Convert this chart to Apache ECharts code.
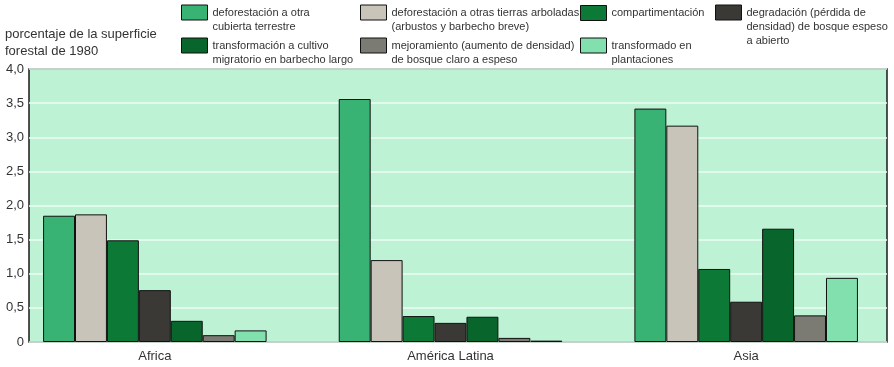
<!DOCTYPE html>
<html>
<head>
<meta charset="utf-8">
<script src="https://cdn.jsdelivr.net/npm/echarts@6/dist/echarts.min.js"></script>
<style>html,body{margin:0;padding:0;background:#fff;}#c{width:894px;height:367px;}</style>
</head>
<body>
<div id="c"></div>
<script>
var categories = ['Africa', 'América Latina', 'Asia'];
var yTicks = [0, 0.5, 1, 1.5, 2, 2.5, 3, 3.5, 4];
var deforestOtra = [1.85, 3.56, 3.42];
var deforestArbol = [1.87, 1.20, 3.17];
var compartimentacion = [1.49, 0.38, 1.07];
var degradacion = [0.76, 0.28, 0.59];
var cultivoMigratorio = [0.31, 0.37, 1.66];
var mejoramiento = [0.10, 0.06, 0.39];
var plantaciones = [0.17, 0.02, 0.94];

var names = {
  a: 'deforestación a otra\ncubierta terrestre',
  b: 'deforestación a otras tierras arboladas\n(arbustos y barbecho breve)',
  c: 'compartimentación',
  d: 'degradación (pérdida de\ndensidad) de bosque espeso\na abierto',
  e: 'transformación a cultivo\nmigratorio en barbecho largo',
  f: 'mejoramiento (aumento de densidad)\nde bosque claro a espeso',
  g: 'transformado en\nplantaciones'
};
var colors = {
  a: '#38b374', b: '#c9c4ba', c: '#0c7a36', d: '#3a3935',
  e: '#08652b', f: '#7b7b74', g: '#82e0ae'
};
var FONT = '"Liberation Sans", Arial, sans-serif';

function mkSeries(key, data) {
  return {
    name: names[key], type: 'bar', data: data,
    xAxisIndex: 1, yAxisIndex: 1,
    barGap: '0%', barCategoryGap: '24.4%',
    itemStyle: { color: colors[key], borderColor: '#111', borderWidth: 1 },
    emphasis: { disabled: true }
  };
}
function mkLegend(key, x, iconTop, lines) {
  var boxOff = lines === 1 ? 0 : 7.5 - 7 * (2 * lines - 1);
  var prefix = '';
  for (var i = 1; i < lines; i++) prefix += '\n';
  return {
    data: [names[key]], left: x, top: iconTop + boxOff, padding: 0,
    itemWidth: 26, itemHeight: 15, selectedMode: false,
    icon: 'rect',
    itemStyle: { borderColor: '#111', borderWidth: 1 },
    formatter: function (n) { return prefix + n; },
    textStyle: { fontFamily: FONT, fontSize: 11, color: '#333', lineHeight: 14 }
  };
}

var chart = echarts.init(document.getElementById('c'), null, { renderer: 'canvas' });
chart.setOption({
  animation: false,
  backgroundColor: '#ffffff',
  title: {
    text: 'porcentaje de la superficie\nforestal de 1980',
    left: 5, top: 26, padding: 0,
    textStyle: { fontFamily: FONT, fontSize: 13, fontWeight: 'normal', color: '#333', lineHeight: 17 }
  },
  legend: [
    mkLegend('a', 181, 5, 2),
    mkLegend('e', 181, 38, 2),
    mkLegend('b', 360, 5, 2),
    mkLegend('f', 360, 38, 2),
    mkLegend('c', 580, 5, 1),
    mkLegend('g', 580, 38, 2),
    mkLegend('d', 715, 5, 3)
  ],
  grid: [
    { left: 29, right: 7, top: 69, bottom: 25, show: true, backgroundColor: '#bdf2d4',
      borderColor: '#1a1a1a', borderWidth: 1.5, containLabel: false },
    { left: 7, width: 902, top: 69, bottom: 25, containLabel: false }
  ],
  xAxis: [
    { type: 'category', gridIndex: 0, data: [''], show: false },
    { type: 'category', gridIndex: 1, data: categories,
      axisLine: { show: false }, axisTick: { show: false },
      axisLabel: { fontFamily: FONT, fontSize: 13, color: '#333', margin: 8 } }
  ],
  yAxis: [
    { type: 'value', gridIndex: 0, min: 0, max: 4, interval: 0.5,
      axisLine: { show: false }, axisTick: { show: false },
      axisLabel: { fontFamily: FONT, fontSize: 13, color: '#333', margin: 5,
        formatter: function (v) { return v === 0 ? '0' : v.toFixed(1).replace('.', ','); } },
      splitLine: { show: true, lineStyle: { color: '#ecfcf3', width: 1.5 } } },
    { type: 'value', gridIndex: 1, min: 0, max: 4, interval: 0.5, show: false,
      splitLine: { show: false } }
  ],
  series: [
    mkSeries('a', deforestOtra),
    mkSeries('b', deforestArbol),
    mkSeries('c', compartimentacion),
    mkSeries('d', degradacion),
    mkSeries('e', cultivoMigratorio),
    mkSeries('f', mejoramiento),
    mkSeries('g', plantaciones)
  ]
});
</script>
</body>
</html>
